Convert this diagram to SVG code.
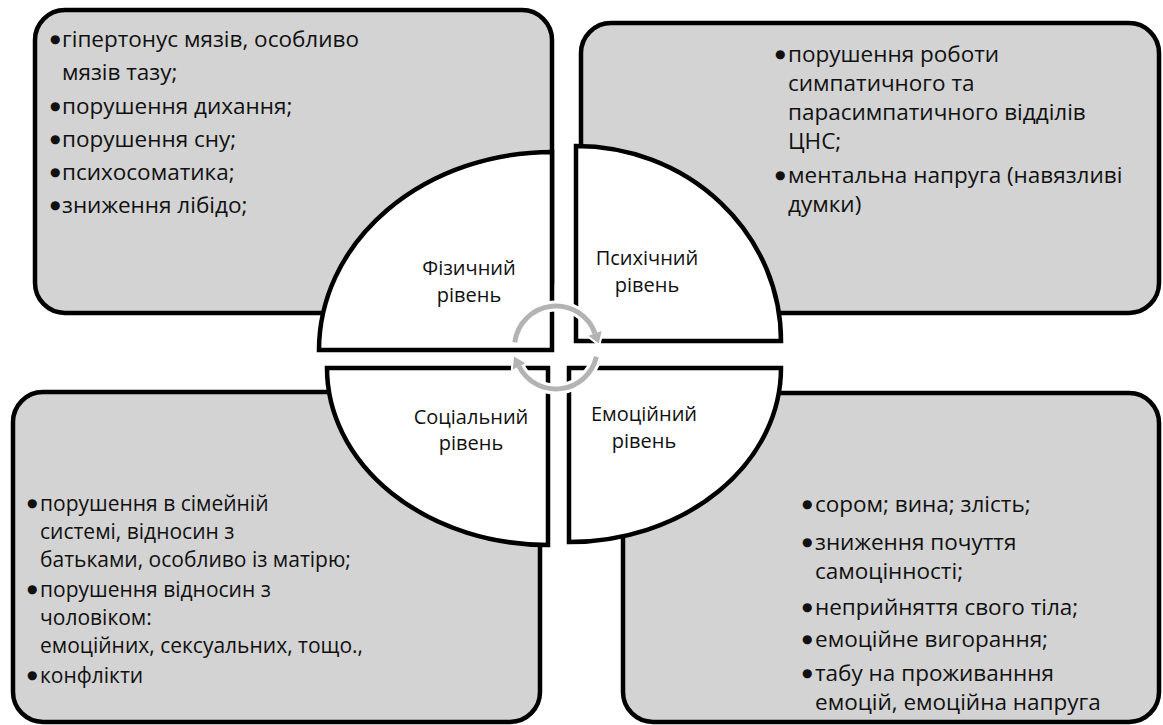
<svg xmlns="http://www.w3.org/2000/svg" width="1163" height="725" viewBox="0 0 1163 725">
<style>
.box{fill:#d3d3d3;stroke:#000;stroke-width:4.5}
.q{fill:#fff;stroke:#000;stroke-width:4.5;stroke-linejoin:miter}
.t{font-family:"Open Sans","Liberation Sans",sans-serif;font-size:22.5px;fill:#111}
.s{font-size:21px}
.bt{font-family:"DejaVu Sans",sans-serif;font-size:12px}
.lbl{font-family:"Open Sans","Liberation Sans",sans-serif;font-size:20px;fill:#111;text-anchor:middle}
.halo{fill:none;stroke:#fff;stroke-width:11}
.haloh{fill:#fff;stroke:#fff;stroke-width:4;stroke-linejoin:round}
.arc{fill:none;stroke:#b3b3b3;stroke-width:5}
.head{fill:#b3b3b3}
</style>
<rect width="1163" height="725" fill="#fff"/>
<g id="box-physical">
<rect class="box" x="35" y="10" width="517" height="303" rx="30"/>
<text class="t"><tspan class="bt" x="50" y="43">●</tspan><tspan x="62" y="47">гіпертонус мязів, особливо</tspan><tspan x="62" y="80">мязів тазу;</tspan><tspan class="bt" x="50" y="110">●</tspan><tspan x="62" y="114">порушення дихання;</tspan><tspan class="bt" x="50" y="143">●</tspan><tspan x="62" y="147">порушення сну;</tspan><tspan class="bt" x="50" y="176">●</tspan><tspan x="62" y="180">психосоматика;</tspan><tspan class="bt" x="50" y="209">●</tspan><tspan x="62" y="213">зниження лібідо;</tspan></text>
</g>
<g id="box-psychic">
<rect class="box" x="581" y="23" width="578" height="290" rx="30"/>
<text class="t"><tspan class="bt" x="775" y="58">●</tspan><tspan x="788" y="62">порушення роботи</tspan><tspan x="788" y="91">симпатичного та</tspan><tspan x="788" y="120">парасимпатичного відділів</tspan><tspan x="788" y="149">ЦНС;</tspan><tspan class="bt" x="775" y="179">●</tspan><tspan x="788" y="183">ментальна напруга (навязливі</tspan><tspan x="788" y="212">думки)</tspan></text>
</g>
<g id="box-social">
<rect class="box" x="13" y="392" width="527" height="330" rx="30"/>
<text class="t s"><tspan class="bt" x="27" y="507">●</tspan><tspan x="40" y="511">порушення в сімейній</tspan><tspan x="40" y="539">системі, відносин з</tspan><tspan x="40" y="567">батьками, особливо із матірю;</tspan><tspan class="bt" x="27" y="593">●</tspan><tspan x="40" y="597">порушення відносин з</tspan><tspan x="40" y="625">чоловіком:</tspan><tspan x="40" y="653">емоційних, сексуальних, тощо.,</tspan><tspan class="bt" x="27" y="679">●</tspan><tspan x="40" y="683">конфлікти</tspan></text>
</g>
<g id="box-emotional">
<rect class="box" x="623" y="393" width="536" height="329" rx="30"/>
<text class="t"><tspan class="bt" x="802" y="508">●</tspan><tspan x="815" y="512">сором; вина; злість;</tspan><tspan class="bt" x="802" y="546">●</tspan><tspan x="815" y="550">зниження почуття</tspan><tspan x="815" y="579">самоцінності;</tspan><tspan class="bt" x="802" y="611">●</tspan><tspan x="815" y="615">неприйняття свого тіла;</tspan><tspan class="bt" x="802" y="643">●</tspan><tspan x="815" y="647">емоційне вигорання;</tspan><tspan class="bt" x="802" y="677">●</tspan><tspan x="815" y="681">табу на проживанння</tspan><tspan x="815" y="710">емоцій, емоційна напруга</tspan></text>
</g>
<g id="level-physical">
<path class="q" d="M552 350 L319 350 A233 198 0 0 1 552 152 Z"/>
<text class="lbl"><tspan x="469" y="275">Фізичний</tspan><tspan x="469" y="302">рівень</tspan></text>
</g>
<g id="level-psychic">
<path class="q" d="M576 341 L576 146 A205 195 0 0 1 781 341 Z"/>
<text class="lbl"><tspan x="647" y="265">Психічний</tspan><tspan x="647" y="292">рівень</tspan></text>
</g>
<g id="level-social">
<path class="q" d="M327 368 L548 368 L548 545 A221 177 0 0 1 327 368 Z"/>
<text class="lbl"><tspan x="471" y="424">Соціальний</tspan><tspan x="471" y="450">рівень</tspan></text>
</g>
<g id="level-emotional">
<path class="q" d="M569 368 L781 368 A212 174 0 0 1 569 542 Z"/>
<text class="lbl"><tspan x="644" y="421">Емоційний</tspan><tspan x="644" y="448">рівень</tspan></text>
</g>
<g id="connectors">
<path class="halo" d="M514.8 342.4 A41.5 41.5 0 0 1 595.0 333.3"/>
<path class="halo" d="M596.4 356.8 A41.5 41.5 0 0 1 519.0 366.3"/>
<polygon class="haloh" points="601.6,330.9 588.4,335.7 598.8,343.6"/>
<polygon class="haloh" points="512.8,369.5 525.3,363.2 514.0,356.5"/>
<path class="arc" d="M514.8 342.4 A41.5 41.5 0 0 1 595.0 333.3"/>
<path class="arc" d="M596.4 356.8 A41.5 41.5 0 0 1 519.0 366.3"/>
<polygon class="head" points="601.6,330.9 588.4,335.7 598.8,343.6"/>
<polygon class="head" points="512.8,369.5 525.3,363.2 514.0,356.5"/>
</g>
</svg>
